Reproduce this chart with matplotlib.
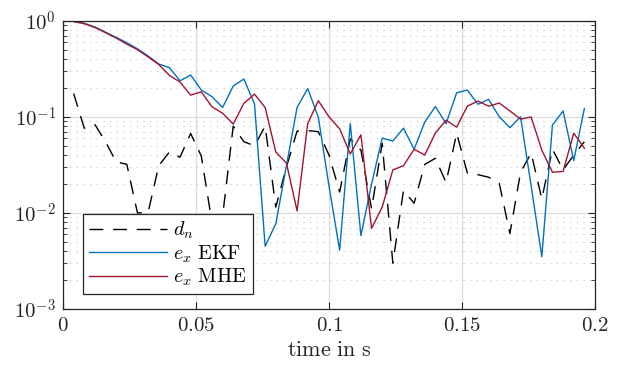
import numpy as np
import matplotlib
matplotlib.use("Agg")
import matplotlib.pyplot as plt
from matplotlib.ticker import LogLocator, NullFormatter, NullLocator

plt.rcParams["mathtext.fontset"] = "cm"
plt.rcParams["font.family"] = ["DejaVu Serif"]

# --- data ---
dt = 0.004
t = np.arange(50) * dt

# disturbance d_n (no value at t = 0)
d_n = [0.175, 0.076, 0.083, 0.055, 0.034, 0.032, 0.0100, 0.0101, 0.031,
       0.043, 0.038, 0.067, 0.039, 0.008, 0.0092, 0.080, 0.055, 0.050,
       0.080, 0.0115, 0.030, 0.071, 0.072, 0.070, 0.040, 0.0165, 0.059,
       0.045, 0.011, 0.053, 0.0030, 0.0171, 0.0126, 0.032, 0.037, 0.0207,
       0.0675, 0.026, 0.025, 0.0235, 0.0204, 0.0061, 0.0264, 0.042, 0.014,
       0.046, 0.028, 0.040, 0.055]

e_ekf = [1.0, 0.985, 0.94, 0.86, 0.76, 0.67, 0.59, 0.51, 0.43, 0.354,
         0.325, 0.237, 0.272, 0.19, 0.162, 0.125, 0.209, 0.247, 0.136, 0.0045,
         0.0077, 0.031, 0.125, 0.197, 0.0986, 0.019, 0.0041, 0.085, 0.0058, 0.02,
         0.06, 0.056, 0.076, 0.046, 0.088, 0.128, 0.085, 0.178, 0.19, 0.135,
         0.152, 0.10, 0.077, 0.10, 0.019, 0.0035, 0.082, 0.115, 0.035, 0.122]

e_mhe = [1.0, 0.98, 0.93, 0.85, 0.75, 0.66, 0.57, 0.50, 0.42, 0.35,
         0.27, 0.23, 0.168, 0.182, 0.127, 0.109, 0.084, 0.138, 0.172, 0.125,
         0.043, 0.033, 0.0105, 0.085, 0.147, 0.10, 0.075, 0.041, 0.065, 0.0069,
         0.0115, 0.028, 0.031, 0.046, 0.040, 0.068, 0.092, 0.078, 0.129, 0.146,
         0.129, 0.139, 0.115, 0.0946, 0.0995, 0.045, 0.0265, 0.027, 0.0676, 0.047]

xticks = [0, 0.05, 0.1, 0.15, 0.2]
xticklabels = ["$0$", "$0.05$", "$0.1$", "$0.15$", "$0.2$"]
yticks = [1e-3, 1e-2, 1e-1, 1e0]
yticklabels = ["$10^{-3}$", "$10^{-2}$", "$10^{-1}$", "$10^{0}$"]

blue = "#0072BD"
red = "#A2142F"
axcol = "#262626"

# --- plot ---
fig = plt.figure(figsize=(6.26, 3.65), dpi=100)
ax = fig.add_axes([0.1006, 0.1534, 0.8499, 0.7899])

ax.plot(t[1:], d_n, color="black", lw=1.0, dashes=(10, 7), label=r"$d_n$")
ax.plot(t, e_ekf, color=blue, lw=1.0, label=r"$e_x\ \mathrm{EKF}$")
ax.plot(t, e_mhe, color=red, lw=1.0, label=r"$e_x\ \mathrm{MHE}$")

ax.set_yscale("log")
ax.set_xlim(0, 0.2)
ax.set_ylim(1e-3, 1)
ax.set_xticks(xticks)
ax.set_xticklabels(xticklabels)
ax.set_yticks(yticks)
ax.set_yticklabels(yticklabels)
ax.yaxis.set_minor_locator(LogLocator(base=10, subs=np.arange(2, 10), numticks=20))
ax.yaxis.set_minor_formatter(NullFormatter())
ax.xaxis.set_minor_locator(NullLocator())

ax.tick_params(which="both", direction="in", top=True, right=True,
               colors=axcol, labelcolor=axcol, labelsize=15)
ax.tick_params(which="major", length=5, width=0.8, pad=5)
ax.tick_params(which="minor", length=3, width=0.6)

ax.grid(True, which="major", color="#dcdcdc", lw=0.9, ls="-")
ax.yaxis.grid(True, which="minor", color="#c4c4c4", lw=0.8, ls=(0, (1, 5)))
ax.set_axisbelow(True)
for s in ax.spines.values():
    s.set_color(axcol)
    s.set_linewidth(0.9)

ax.set_xlabel(r"$\mathrm{time\ in\ s}$", fontsize=16, color=axcol, labelpad=3)

leg = ax.legend(loc="lower left", bbox_to_anchor=(0.037, 0.052), borderaxespad=0,
                fontsize=14.5, handlelength=3.9, labelspacing=0.1, handletextpad=0.3,
                fancybox=False, framealpha=1, edgecolor=axcol, borderpad=0.3)
leg.get_frame().set_linewidth(0.9)

fig.savefig("out.png", dpi=100)
